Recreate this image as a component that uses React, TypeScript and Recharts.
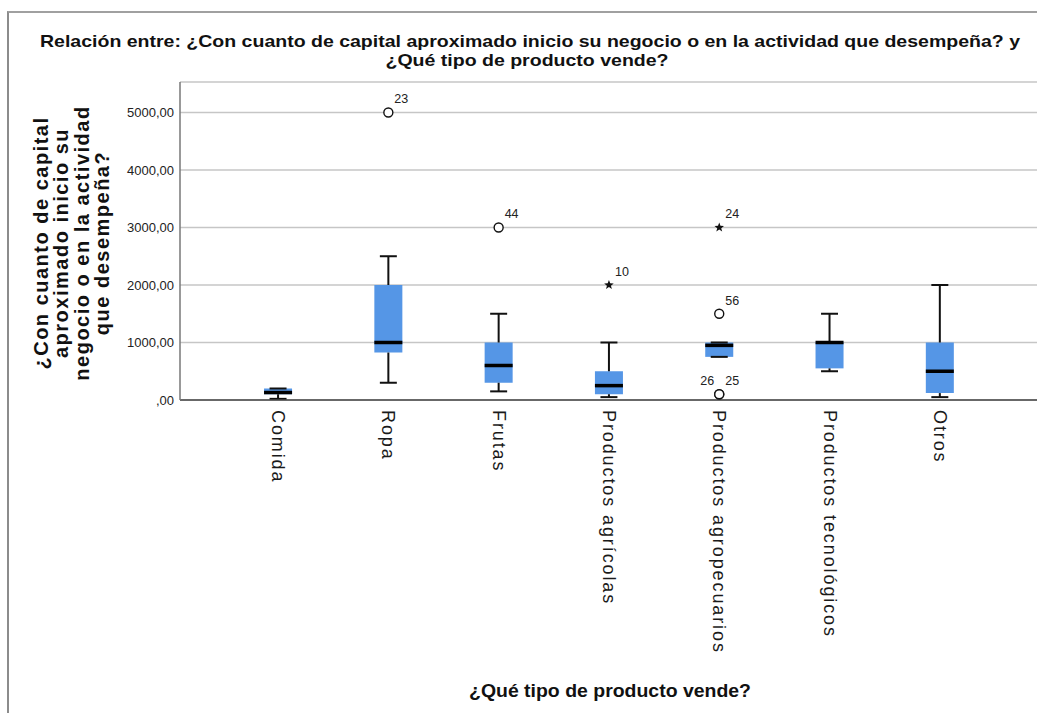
import { ComposedChart, XAxis, YAxis, CartesianGrid, ReferenceArea, ReferenceLine, Scatter } from "recharts";

const categories = [
  "Comida",
  "Ropa",
  "Frutas",
  "Productos agrícolas",
  "Productos agropecuarios",
  "Productos tecnológicos",
  "Otros",
];
const whiskerLow = [20, 300, 150, 50, 750, 500, 50];
const quartile1 = [100, 825, 300, 100, 750, 550, 120];
const medians = [130, 1000, 600, 250, 950, 1000, 500];
const quartile3 = [200, 2000, 1000, 500, 1000, 1000, 1000];
const whiskerHigh = [200, 2500, 1500, 1000, 1000, 1500, 2000];

const outlierCategory = [2, 3, 4, 5, 5, 5, 5];
const outlierValue = [5000, 3000, 2000, 3000, 1500, 100, 100];
const outlierKind = ["circle", "circle", "star", "star", "circle", "circle", "circle"];
const outlierCase = ["23", "44", "10", "24", "56", "26", "25"];
const outlierLabelSide = ["right", "right", "right", "right", "right", "left", "right"];

const yTicks = [0, 1000, 2000, 3000, 4000, 5000];
const xTicks = categories.map((_, i) => i + 1);

const FONT = '"Liberation Sans", Arial, sans-serif';
const BOX_HALF = 0.127;
const CAP_HALF = 0.077;
const BOX_FILL = "#5596e6";

const outliers = outlierValue.map((v, i) => ({
  x: outlierCategory[i],
  y: v,
  kind: outlierKind[i],
  label: outlierCase[i],
  side: outlierLabelSide[i],
}));

function starPath(cx: number, cy: number, r: number) {
  const pts: string[] = [];
  for (let k = 0; k < 10; k++) {
    const rad = k % 2 === 0 ? r : r * 0.42;
    const a = -Math.PI / 2 + (k * Math.PI) / 5;
    pts.push(`${cx + rad * Math.cos(a)},${cy + rad * Math.sin(a)}`);
  }
  return `M${pts.join("L")}Z`;
}

function OutlierMark(props: any) {
  const { cx, cy, payload } = props;
  const right = payload.side === "right";
  return (
    <g>
      {payload.kind === "circle" ? (
        <circle cx={cx} cy={cy} r={4.5} fill="#fff" stroke="#111" strokeWidth={1.4} />
      ) : (
        <path d={starPath(cx, cy, 5)} fill="#111" />
      )}
      <text
        x={right ? cx + 6 : cx - 5}
        y={cy - 9}
        textAnchor={right ? "start" : "end"}
        fontSize={12.5}
        fontFamily={FONT}
        fill="#222"
      >
        {payload.label}
      </text>
    </g>
  );
}

function CategoryTick(props: any) {
  const { x, y, payload } = props;
  return (
    <text
      x={x}
      y={y}
      transform={`rotate(90 ${x} ${y})`}
      textAnchor="start"
      dominantBaseline="central"
      fontSize={18}
      letterSpacing={1.9}
      fontFamily={FONT}
      fill="#1a1a1a"
    >
      {categories[payload.value - 1]}
    </text>
  );
}

const yTitleLines = ["¿Con cuanto de capital", "aproximado inicio su", "negocio o en la actividad", "que desempeña?"];

export default function App() {
  return (
    <div style={{ position: "absolute", left: 0, top: 0, width: 1037, height: 713, background: "#fff", overflow: "hidden" }}>
      <div
        style={{
          position: "absolute",
          left: 7,
          top: 11,
          width: 1040,
          height: 710,
          borderLeft: "2px solid #8c8c8c",
          borderTop: "2px solid #a0a0a0",
        }}
      />
      <div style={{ position: "absolute", left: 0, top: 0 }}>
        <ComposedChart width={1037} height={713} margin={{ top: 82, right: 0, bottom: 0, left: 0 }}>
          <CartesianGrid horizontal vertical={false} stroke="#c6c6c6" strokeWidth={1.5} />
          <XAxis
            type="number"
            dataKey="x"
            domain={[0.111, 7.881]}
            allowDataOverflow
            ticks={xTicks}
            interval={0}
            height={313}
            tickLine={false}
            tickSize={0}
            tickMargin={10}
            tick={<CategoryTick />}
            axisLine={{ stroke: "#444", strokeWidth: 1.6 }}
          />
          <YAxis
            type="number"
            domain={[0, 5530]}
            allowDataOverflow
            ticks={yTicks}
            width={180}
            tickLine={false}
            tickSize={0}
            tickMargin={6}
            tickFormatter={(v: number) => (v === 0 ? ",00" : v.toFixed(2).replace(".", ","))}
            tick={{ fontSize: 13, fill: "#222", fontFamily: FONT }}
            axisLine={{ stroke: "#777", strokeWidth: 1.5 }}
          />
          {categories.map((c, i) => (
            <ReferenceLine
              key={`wu-${c}`}
              segment={[
                { x: i + 1, y: quartile3[i] },
                { x: i + 1, y: whiskerHigh[i] },
              ]}
              stroke="#111"
              strokeWidth={2}
            />
          ))}
          {categories.map((c, i) => (
            <ReferenceLine
              key={`wl-${c}`}
              segment={[
                { x: i + 1, y: whiskerLow[i] },
                { x: i + 1, y: quartile1[i] },
              ]}
              stroke="#111"
              strokeWidth={2}
            />
          ))}
          {categories.map((c, i) => (
            <ReferenceArea
              key={`box-${c}`}
              x1={i + 1 - BOX_HALF}
              x2={i + 1 + BOX_HALF}
              y1={quartile1[i]}
              y2={quartile3[i]}
              fill={BOX_FILL}
              fillOpacity={1}
              stroke="none"
            />
          ))}
          {categories.map((c, i) => (
            <ReferenceLine
              key={`ch-${c}`}
              segment={[
                { x: i + 1 - CAP_HALF, y: whiskerHigh[i] },
                { x: i + 1 + CAP_HALF, y: whiskerHigh[i] },
              ]}
              stroke="#111"
              strokeWidth={2}
            />
          ))}
          {categories.map((c, i) => (
            <ReferenceLine
              key={`cl-${c}`}
              segment={[
                { x: i + 1 - CAP_HALF, y: whiskerLow[i] },
                { x: i + 1 + CAP_HALF, y: whiskerLow[i] },
              ]}
              stroke="#111"
              strokeWidth={2}
            />
          ))}
          {categories.map((c, i) => (
            <ReferenceLine
              key={`med-${c}`}
              segment={[
                { x: i + 1 - BOX_HALF, y: medians[i] },
                { x: i + 1 + BOX_HALF, y: medians[i] },
              ]}
              stroke="#000"
              strokeWidth={3.5}
            />
          ))}
          <Scatter data={outliers} dataKey="y" shape={<OutlierMark />} isAnimationActive={false} />
        </ComposedChart>
      </div>
      <svg width={1037} height={713} style={{ position: "absolute", left: 0, top: 0, pointerEvents: "none" }}>
        <text
          x={530}
          y={47}
          textAnchor="middle"
          fontSize={17}
          fontWeight="bold"
          fontFamily={FONT}
          fill="#111"
          textLength={980}
          lengthAdjust="spacingAndGlyphs"
        >
          Relación entre: ¿Con cuanto de capital aproximado inicio su negocio o en la actividad que desempeña? y
        </text>
        <text
          x={527}
          y={66}
          textAnchor="middle"
          fontSize={17}
          fontWeight="bold"
          fontFamily={FONT}
          fill="#111"
          textLength={283}
          lengthAdjust="spacingAndGlyphs"
        >
          ¿Qué tipo de producto vende?
        </text>
        {yTitleLines.map((line, i) => (
          <text
            key={line}
            transform={`translate(${41 + i * 20.3},243) rotate(-90)`}
            textAnchor="middle"
            dominantBaseline="central"
            fontSize={20}
            fontWeight="bold"
            letterSpacing={1.5}
            fontFamily={FONT}
            fill="#111"
          >
            {line}
          </text>
        ))}
        <text
          x={610}
          y={697}
          textAnchor="middle"
          fontSize={18}
          fontWeight="bold"
          fontFamily={FONT}
          fill="#111"
          textLength={282}
          lengthAdjust="spacingAndGlyphs"
        >
          ¿Qué tipo de producto vende?
        </text>
      </svg>
    </div>
  );
}
